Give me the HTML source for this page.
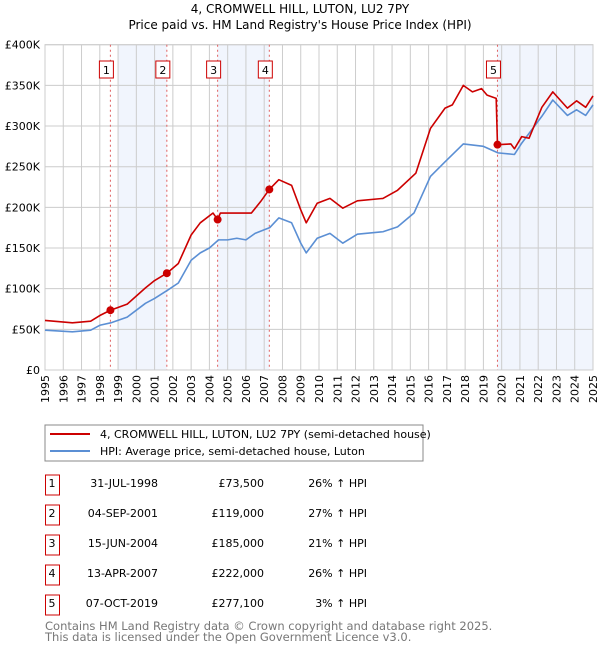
<!DOCTYPE html>
<html><head><meta charset="utf-8"><style>
body{margin:0;background:#fff;width:600px;height:650px;overflow:hidden;font-family:"DejaVu Sans","Liberation Sans",sans-serif}
svg text{font-family:"DejaVu Sans","Liberation Sans",sans-serif}
</style></head><body>
<svg id="c" width="600" height="650" xmlns="http://www.w3.org/2000/svg">
<text x="300" y="13" text-anchor="middle" font-size="12">4, CROMWELL HILL, LUTON, LU2 7PY</text>
<text x="300" y="29" text-anchor="middle" font-size="12">Price paid vs. HM Land Registry's House Price Index (HPI)</text>
<g id="plot"></g>
<rect x="45" y="425" width="378" height="36" fill="none" stroke="#888"/>
<line x1="50" y1="434" x2="90" y2="434" stroke="#cc0000" stroke-width="2"/>
<text x="100" y="438" font-size="11">4, CROMWELL HILL, LUTON, LU2 7PY (semi-detached house)</text>
<line x1="50" y1="451" x2="90" y2="451" stroke="#5b8fd4" stroke-width="2"/>
<text x="100" y="455" font-size="11">HPI: Average price, semi-detached house, Luton</text>
<g id="tbl"></g>
<text x="45" y="630" font-size="11.5" fill="#777">Contains HM Land Registry data © Crown copyright and database right 2025.</text>
<text x="45" y="641" font-size="11.5" fill="#777">This data is licensed under the Open Government Licence v3.0.</text>
</svg>
<script>
const hpiYears=[1995,1996.5,1997.5,1998,1998.6,1999.5,2000.5,2001,2001.7,2002.3,2003,2003.5,2004,2004.5,2005,2005.5,2006,2006.5,2007.3,2007.8,2008.5,2009,2009.3,2009.9,2010.6,2011.3,2012.1,2013.5,2014.3,2015.2,2016.1,2016.9,2017.9,2019,2019.8,2020.7,2021.1,2022.2,2022.8,2023.6,2024.1,2024.6,2025];
const hpiValues=[49000,47000,49000,55000,58000,65000,82000,88000,98000,107000,135000,144000,150000,160000,160000,162000,160000,168000,175000,187000,181000,156000,144000,162000,168000,156000,167000,170000,176000,193000,238000,256000,278000,275000,267000,265000,279000,312000,332000,313000,320000,313000,326000];
const priceYears=[1995,1996.5,1997.5,1998,1998.58,1999.5,2000.5,2001,2001.67,2002.3,2003,2003.5,2004.2,2004.45,2004.6,2005.5,2006.3,2006.8,2007.28,2007.8,2008.5,2009,2009.3,2009.9,2010.6,2011.3,2012.1,2013.5,2014.3,2015.3,2016.1,2016.9,2017.3,2017.9,2018.4,2018.9,2019.2,2019.7,2019.77,2020.5,2020.7,2021.1,2021.5,2022.2,2022.8,2023.6,2024.1,2024.6,2025];
const priceValues=[61000,58000,60000,67000,73500,81000,101000,110000,119000,131000,166000,181000,193000,185000,193000,193000,193000,207000,222000,234000,227000,197000,181000,205000,211000,199000,208000,211000,221000,242000,297000,322000,326000,350000,342000,346000,338000,334000,277100,278000,272000,287000,285000,323000,342000,322000,331000,323000,337000];
const saleYears=[1998.58,2001.67,2004.45,2007.28,2019.77];
const salePrices=[73500,119000,185000,222000,277100];
const saleLabels=["1","2","3","4","5"];
const saleDates=["31-JUL-1998","04-SEP-2001","15-JUN-2004","13-APR-2007","07-OCT-2019"];
const salePriceText=["£73,500","£119,000","£185,000","£222,000","£277,100"];
const saleHpiText=["26% ↑ HPI","27% ↑ HPI","21% ↑ HPI","26% ↑ HPI","3% ↑ HPI"];
const shadeStarts=[1999.0,2004.45,2019.77];
const shadeEnds=[2001.67,2007.28,2025];
const yTicks=[0,50000,100000,150000,200000,250000,300000,350000,400000];
const yTickLabels=["£0","£50K","£100K","£150K","£200K","£250K","£300K","£350K","£400K"];

const NS="http://www.w3.org/2000/svg";
const L=45,R=593,T=44.7,B=370;
const X=y=>L+(y-1995)/30*(R-L);
const Y=v=>B-v/400000*(B-T);
const plot=document.getElementById('plot');
function mk(t,a,p){const e=document.createElementNS(NS,t);for(const k in a)e.setAttribute(k,a[k]);(p||plot).appendChild(e);return e;}
for(let i=0;i<shadeStarts.length;i++){
 const r=mk('rect',{x:X(shadeStarts[i]),y:T,width:X(shadeEnds[i])-X(shadeStarts[i]),height:B-T,fill:'#eef3fc',opacity:0.8});
 
 
}
for(let yr=1995;yr<=2025;yr++){
 const g=mk('line',{x1:X(yr),x2:X(yr),y1:T,y2:B,stroke:'#ccc','stroke-width':1});
 
 
 const tx=X(yr)+4,ty=375;
 const t=mk('text',{x:tx,y:ty,'text-anchor':'end','font-size':11,transform:'rotate(-90 '+tx+' '+ty+')'});
 t.textContent=yr;
 
 
}
yTicks.forEach((v,i)=>{
 const g=mk('line',{x1:L,x2:R,y1:Y(v),y2:Y(v),stroke:'#ccc','stroke-width':1});
 
 
 const t=mk('text',{x:40,y:Y(v)+4,'text-anchor':'end','font-size':11});
 t.textContent=yTickLabels[i];
 
 
});
const fr=mk('rect',{x:L,y:T,width:R-L,height:B-T,fill:'none',stroke:'#ccc'});


saleYears.forEach((y,i)=>{
 const d=mk('line',{x1:X(y),x2:X(y),y1:T,y2:B,stroke:'#e06060','stroke-dasharray':'2,3','stroke-width':1});
 
 
 const b=mk('rect',{x:X(y)-11,y:61,width:14,height:17,fill:'#fff',stroke:'#cc0000'});
 
 
 const t=mk('text',{x:X(y)-4,y:74,'text-anchor':'middle','font-size':11});
 t.textContent=saleLabels[i];
 
 
});
function line(xs,vs,c,n){
 const p=mk('polyline',{points:xs.map((x,i)=>X(x)+','+Y(vs[i])).join(' '),fill:'none',stroke:c,'stroke-width':1.6,'stroke-linejoin':'round'});
 
 
}
line(hpiYears,hpiValues,'#5b8fd4','hpi-line');
line(priceYears,priceValues,'#cc0000','price-line');
saleYears.forEach((y,i)=>{
 const c=mk('circle',{cx:X(y),cy:Y(salePrices[i]),r:4,fill:'#cc0000'});
 
 
});
const tbl=document.getElementById('tbl');
saleLabels.forEach((s,i)=>{
 const cy=483+i*30;
 const b=mk('rect',{x:45.5,y:cy-8,width:14,height:20,fill:'#fff',stroke:'#cc0000'},tbl);
 
 
 const cols=[[52,'middle',s,'table-sale-number'],[158,'end',saleDates[i],'table-sale-date'],[264,'end',salePriceText[i],'table-sale-price'],[367,'end',saleHpiText[i],'table-sale-hpi']];
 cols.forEach(c=>{
  const t=mk('text',{x:c[0],y:cy+4,'text-anchor':c[1],'font-size':11},tbl);
  t.textContent=c[2];
  
  
 });
});
</script>
</body></html>
